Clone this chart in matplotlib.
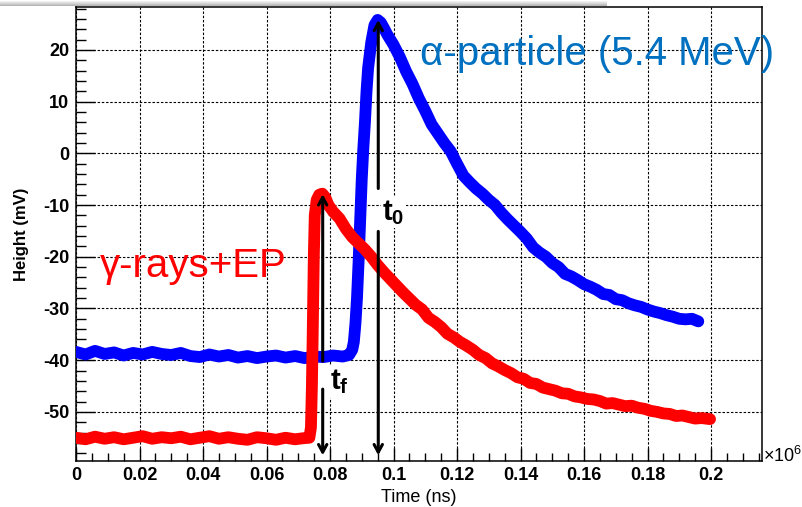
import numpy as np
import matplotlib
matplotlib.use("Agg")
import matplotlib.pyplot as plt
from matplotlib.ticker import MultipleLocator, FuncFormatter

plt.rcParams['font.family'] = ['Liberation Sans', 'DejaVu Sans']
plt.rcParams['axes.unicode_minus'] = False
plt.rcParams['mathtext.fontset'] = 'custom'
plt.rcParams['mathtext.rm'] = 'Liberation Sans'
plt.rcParams['mathtext.bf'] = 'Liberation Sans:bold'

# alpha pulse (blue), time in units of 1e6 ns
t_alpha = [0, 0.003, 0.006, 0.009, 0.012, 0.015, 0.018, 0.021, 0.024, 0.027,
           0.030, 0.033, 0.036, 0.039, 0.042, 0.045, 0.048, 0.051, 0.054, 0.057,
           0.060, 0.063, 0.066, 0.069, 0.072, 0.075, 0.078, 0.081, 0.084, 0.086,
           0.087, 0.0875, 0.088, 0.0885, 0.089, 0.0895, 0.090, 0.0905, 0.091, 0.0915,
           0.092, 0.093, 0.094, 0.095, 0.096, 0.097, 0.098, 0.100, 0.102, 0.104,
           0.106, 0.108, 0.110, 0.112, 0.114, 0.116, 0.118, 0.120, 0.122, 0.124,
           0.126, 0.128, 0.130, 0.132, 0.134, 0.136, 0.138, 0.140, 0.142, 0.144,
           0.146, 0.148, 0.150, 0.152, 0.154, 0.156, 0.158, 0.160, 0.162, 0.164,
           0.166, 0.168, 0.170, 0.172, 0.174, 0.176, 0.178, 0.180, 0.182, 0.184,
           0.186, 0.188, 0.190, 0.192, 0.194, 0.196]
h_alpha = [-38.4, -38.9, -38.2, -38.8, -38.5, -39.1, -38.6, -38.9, -38.4, -38.8,
           -39.0, -38.6, -39.2, -39.4, -38.9, -39.3, -39.0, -39.5, -39.2, -39.6,
           -39.3, -39.1, -39.5, -39.2, -39.6, -39.3, -39.4, -39.1, -39.3, -39.0,
           -38.0, -36.5, -33.0, -28.0, -21.0, -13.0, -5.0, 1.0, 6.0, 12.0,
           16.5, 21.5, 24.8, 25.8, 25.3, 24.2, 23.0, 21.0, 18.6, 15.8,
           13.4, 10.6, 8.2, 5.6, 3.8, 2.0, 0.4, -2.0, -4.3, -5.6,
           -6.8, -7.8, -9.0, -10.0, -11.5, -12.8, -14.0, -15.2, -16.5, -18.2,
           -19.2, -20.0, -21.2, -22.0, -23.3, -23.8, -24.5, -25.3, -25.8, -26.4,
           -27.2, -27.4, -28.2, -28.4, -29.0, -29.4, -29.7, -30.2, -30.6, -30.9,
           -31.3, -31.6, -32.0, -32.1, -32.0, -32.5]

# gamma + EP pulse (red)
t_gamma = [0, 0.003, 0.006, 0.009, 0.012, 0.015, 0.018, 0.021, 0.024, 0.027,
           0.030, 0.033, 0.036, 0.039, 0.042, 0.045, 0.048, 0.051, 0.054, 0.057,
           0.060, 0.063, 0.066, 0.069, 0.0715, 0.0735, 0.074, 0.0743, 0.0746, 0.0749,
           0.0752, 0.0758, 0.0766, 0.0776, 0.0785, 0.0795, 0.081, 0.083, 0.085, 0.087,
           0.089, 0.091, 0.093, 0.095, 0.097, 0.099, 0.101, 0.103, 0.105, 0.107,
           0.109, 0.111, 0.113, 0.115, 0.117, 0.119, 0.121, 0.123, 0.125, 0.127,
           0.129, 0.131, 0.133, 0.135, 0.137, 0.139, 0.141, 0.143, 0.145, 0.147,
           0.149, 0.151, 0.153, 0.155, 0.157, 0.159, 0.161, 0.163, 0.165, 0.167,
           0.169, 0.171, 0.173, 0.175, 0.177, 0.179, 0.181, 0.183, 0.185, 0.187,
           0.189, 0.191, 0.193, 0.195, 0.197, 0.1997]
h_gamma = [-55.0, -55.3, -54.8, -55.2, -54.9, -55.3, -55.0, -54.7, -55.2, -54.9,
           -55.1, -54.8, -55.3, -55.0, -54.7, -55.2, -54.9, -55.2, -55.4, -54.9,
           -55.1, -55.4, -55.0, -55.3, -55.1, -55.0, -53.0, -45.0, -33.0, -20.0,
           -12.0, -9.0, -8.0, -7.8, -8.5, -10.0, -11.3, -12.6, -14.6, -16.2,
           -17.4, -18.6, -20.0, -21.6, -23.0, -24.3, -25.6, -26.9, -28.1, -29.3,
           -30.2, -31.8, -32.6, -33.6, -34.9, -35.6, -36.5, -37.2, -38.0, -39.0,
           -39.6, -40.6, -41.2, -41.9, -42.5, -43.3, -43.6, -44.4, -44.6, -45.3,
           -45.6, -45.9, -46.4, -46.5, -47.0, -47.2, -47.5, -47.6, -47.9, -48.4,
           -48.3, -48.6, -48.9, -48.8, -49.2, -49.4, -49.8, -50.0, -50.3, -50.4,
           -50.8, -50.7, -51.0, -51.3, -51.2, -51.4]

# arrow positions (time, from, to)
arrows = [(0.0777, -40.2, -7.9), (0.0777, -45.6, -58.4),
          (0.0952, -6.8, 25.8), (0.0952, -15.1, -58.4)]

fig = plt.figure(figsize=(8.02, 5.07), dpi=100)
ax = fig.add_axes([76 / 802, 1 - 461 / 507, (761.5 - 76) / 802, (461 - 7) / 507])

# slide shadow at the top
shade = np.linspace(0.72, 1.0, 6)[::-1]
img = np.ones((6, 607, 3)) * shade[:, None, None]
fig.figimage(img, xo=0, yo=507 - 6, zorder=0)

ax.set_axisbelow(True)
ax.grid(True, which='major', color='black', linestyle=(0, (2.2, 1.6)), linewidth=0.8)

ax.plot(t_alpha, h_alpha, color='#0000ff', lw=8.5, solid_capstyle='round', solid_joinstyle='round', zorder=3)
ax.plot(t_gamma, h_gamma, color='#ff0000', lw=8.5, solid_capstyle='round', solid_joinstyle='round', zorder=4)

for x, y0, y1 in arrows:
    ax.annotate('', xy=(x, y1), xytext=(x, y0),
                arrowprops=dict(arrowstyle='->,head_length=0.55,head_width=0.3',
                                color='black', lw=2.2, shrinkA=0, shrinkB=0),
                zorder=6)

ax.text(0.0800, -45.7, r'$\mathbf{t}_{\mathbf{f}}$', fontsize=21, color='black', zorder=7,
        bbox=dict(facecolor='white', edgecolor='none', pad=1))
ax.text(0.0964, -12.9, r'$\mathbf{t}_{\mathbf{0}}$', fontsize=21, color='black', zorder=7,
        bbox=dict(facecolor='white', edgecolor='none', pad=1))

ax.text(0.1083, 17.1, 'α-particle (5.4 MeV)', fontsize=29, color='#0070c0', zorder=8)
ax.text(0.00756, -24.0, 'γ-rays+EP', fontsize=29, color='#ff0000', zorder=8)

ax.set_xlim(0, 0.2159)
ax.set_ylim(-59.5, 28.3)
ax.xaxis.set_major_locator(MultipleLocator(0.02))
ax.xaxis.set_minor_locator(MultipleLocator(0.005))
ax.yaxis.set_major_locator(MultipleLocator(10))
ax.yaxis.set_minor_locator(MultipleLocator(2))
ax.xaxis.set_major_formatter(FuncFormatter(lambda v, p: '%g' % round(v, 4)))
ax.yaxis.set_major_formatter(FuncFormatter(lambda v, p: '%g' % round(v, 4)))

ax.tick_params(axis='x', which='major', direction='in', length=9.5, width=1, labelsize=13, pad=4)
ax.tick_params(axis='x', which='minor', direction='in', length=6, width=1)
ax.tick_params(axis='y', which='major', direction='in', length=13.5, width=1, labelsize=13, pad=5)
ax.tick_params(axis='y', which='minor', direction='in', length=7, width=1)
for lab in ax.get_xticklabels() + ax.get_yticklabels():
    lab.set_fontweight('bold')
for s in ax.spines.values():
    s.set_linewidth(1.1)

ax.set_xlabel('Time (ns)', fontsize=13, labelpad=4)
ax.set_ylabel('Height (mV)', fontsize=12, fontweight='bold', labelpad=10)
fig.text(763 / 802, 1 - 462 / 507, r'$\times10^{6}$', fontsize=13, ha='left', va='baseline')

fig.savefig('out.png', dpi=100)
